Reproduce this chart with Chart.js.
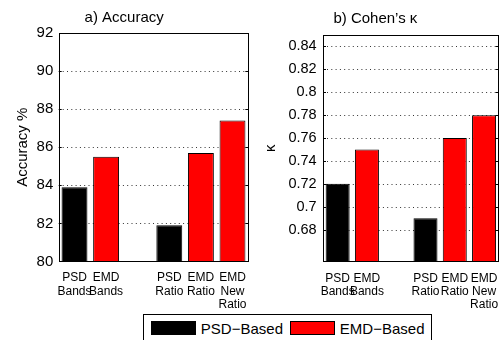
<!DOCTYPE html>
<html>
<head>
<meta charset="utf-8">
<script src="https://cdn.jsdelivr.net/npm/chart.js@4"></script>
<style>
  html, body { margin: 0; padding: 0; background: #fff; }
  body { width: 504px; height: 340px; position: relative; overflow: hidden; font-family: "Liberation Sans", Arial, sans-serif; }
  canvas { position: absolute; top: 0; }
  #accChart { left: 0; }
  #kappaChart { left: 252px; }
  .legend {
    position: absolute; left: 143px; top: 314px; width: 289px; height: 30px;
    box-sizing: border-box; border: 1px solid #000; background: #fff;
    display: flex; align-items: flex-start; padding: 5.5px 0 0 6.5px;
    font-size: 15px; line-height: 15px; color: #000;
  }
  .legend span.swatch { display: inline-block; width: 48px; height: 14px; box-sizing: border-box; border: 1px solid #000; }
  .legend span.text { margin: 0 6.5px 0 5px; padding-top: 0.5px; }
</style>
</head>
<body>
<canvas id="accChart" width="252" height="310"></canvas>
<canvas id="kappaChart" width="252" height="310"></canvas>
<div class="legend" id="legend"></div>
<script>
const categories = [["PSD", "Bands"], ["EMD", "Bands"], "", ["PSD", "Ratio"], ["EMD", "Ratio"], ["EMD", "New", "Ratio"]];
const seriesNames = ["PSD\u2212Based", "EMD\u2212Based"];
const seriesColors = ["#000000", "#ff0000"];

const psdAccuracy = [83.9, null, null, 81.9, null, null];
const emdAccuracy = [null, 85.5, null, null, 85.7, 87.4];
const accuracyTicks = [80, 82, 84, 86, 88, 90, 92];

const psdKappa = [0.72, null, null, 0.69, null, null];
const emdKappa = [null, 0.75, null, null, 0.76, 0.78];
const kappaTicks = [0.68, 0.7, 0.72, 0.74, 0.76, 0.78, 0.8, 0.82, 0.84];

const FONT = "'Liberation Sans', Arial, sans-serif";

// matlab-ish box: dotted grid under the bars, solid frame and inward ticks on top
const framePlugin = {
  id: "frame",
  beforeDatasetsDraw(chart) {
    const { ctx, chartArea: a, scales: { y } } = chart;
    ctx.save();
    ctx.strokeStyle = "#333";
    ctx.lineWidth = 1;
    ctx.setLineDash([1, 3.3]);
    ctx.beginPath();
    y.ticks.forEach((t) => {
      if (t.value <= y.min || t.value >= y.max) return;
      const py = Math.round(y.getPixelForValue(t.value)) + 0.5;
      ctx.moveTo(a.left + 4, py);
      ctx.lineTo(a.right - 3, py);
    });
    ctx.stroke();
    ctx.restore();
  },
  afterDraw(chart) {
    const { ctx, chartArea: a, scales: { y } } = chart;
    ctx.save();
    ctx.strokeStyle = "#000";
    ctx.lineWidth = 1;
    ctx.strokeRect(Math.round(a.left) + 0.5, Math.round(a.top) + 0.5, Math.round(a.width) - 1, Math.round(a.height) - 1);
    ctx.beginPath();
    y.ticks.forEach((t) => {
      if (t.value <= y.min || t.value >= y.max) return;
      const py = Math.round(y.getPixelForValue(t.value)) + 0.5;
      ctx.moveTo(a.left, py);
      ctx.lineTo(a.left + 3, py);
      ctx.moveTo(a.right, py);
      ctx.lineTo(a.right - 3, py);
    });
    ctx.stroke();
    ctx.restore();
  },
};

function makeChart(id, cfg) {
  return new Chart(document.getElementById(id), {
    type: "bar",
    data: {
      labels: categories,
      datasets: [
        { label: seriesNames[0], data: cfg.psd, backgroundColor: seriesColors[0] },
        { label: seriesNames[1], data: cfg.emd, backgroundColor: seriesColors[1] },
      ].map((d) => Object.assign(d, {
        borderColor: "#000",
        borderWidth: 1,
        grouped: false,
        barPercentage: 0.82,
        categoryPercentage: 1,
      })),
    },
    options: {
      responsive: false,
      animation: false,
      layout: { padding: { left: 0, right: cfg.padRight, top: 0, bottom: 0 } },
      plugins: {
        legend: { display: false },
        tooltip: { enabled: false },
        title: {
          display: true,
          text: cfg.title,
          color: "#000",
          font: { family: FONT, size: 15, weight: "normal", lineHeight: 1.2 },
          padding: { top: cfg.titleTop, bottom: cfg.titleBottom },
        },
      },
      scales: {
        x: {
          offset: true,
          grid: { display: false },
          border: { display: false },
          ticks: {
            color: "#000",
            autoSkip: false,
            maxRotation: 0,
            padding: 2,
            font: { family: FONT, size: 12, lineHeight: 1.1 },
          },
          afterFit: (scale) => { scale.height = cfg.xHeight; },
        },
        y: {
          min: cfg.min,
          max: cfg.max,
          afterBuildTicks: (scale) => { scale.ticks = cfg.ticks.map((v) => ({ value: v })); },
          afterFit: (scale) => { scale.width = cfg.yWidth; },
          grid: { display: false, drawTicks: false },
          border: { display: false },
          ticks: {
            color: "#000",
            padding: cfg.tickPad,
            font: { family: FONT, size: cfg.tickSize },
            callback: (v) => String(v),
          },
          title: {
            display: true,
            text: cfg.yTitle,
            color: "#000",
            font: { family: FONT, size: 15, lineHeight: 1.2 },
            padding: { top: cfg.yTitlePad, bottom: 0 },
          },
        },
      },
    },
    plugins: [framePlugin],
  });
}

makeChart("accChart", {
  psd: psdAccuracy, emd: emdAccuracy, ticks: accuracyTicks,
  min: 80, max: 92, title: "a) Accuracy", yTitle: "Accuracy %",
  padRight: 3.7, titleTop: 8.5, titleBottom: 6.5, xHeight: 48.5,
  yWidth: 58.7, tickPad: 5.4, tickSize: 15, yTitlePad: 14,
});

makeChart("kappaChart", {
  psd: psdKappa, emd: emdKappa, ticks: kappaTicks,
  min: 0.652, max: 0.85, title: "b) Cohen\u2019s \u03ba", yTitle: "\u03ba",
  padRight: 5.3, titleTop: 10, titleBottom: 7, xHeight: 48.3,
  yWidth: 71, tickPad: 6.4, tickSize: 14.5, yTitlePad: 9.5,
});

document.getElementById("legend").innerHTML = seriesNames
  .map((name, i) => `<span class="swatch" style="background:${seriesColors[i]}"></span><span class="text">${name}</span>`)
  .join("");
</script>
</body>
</html>
